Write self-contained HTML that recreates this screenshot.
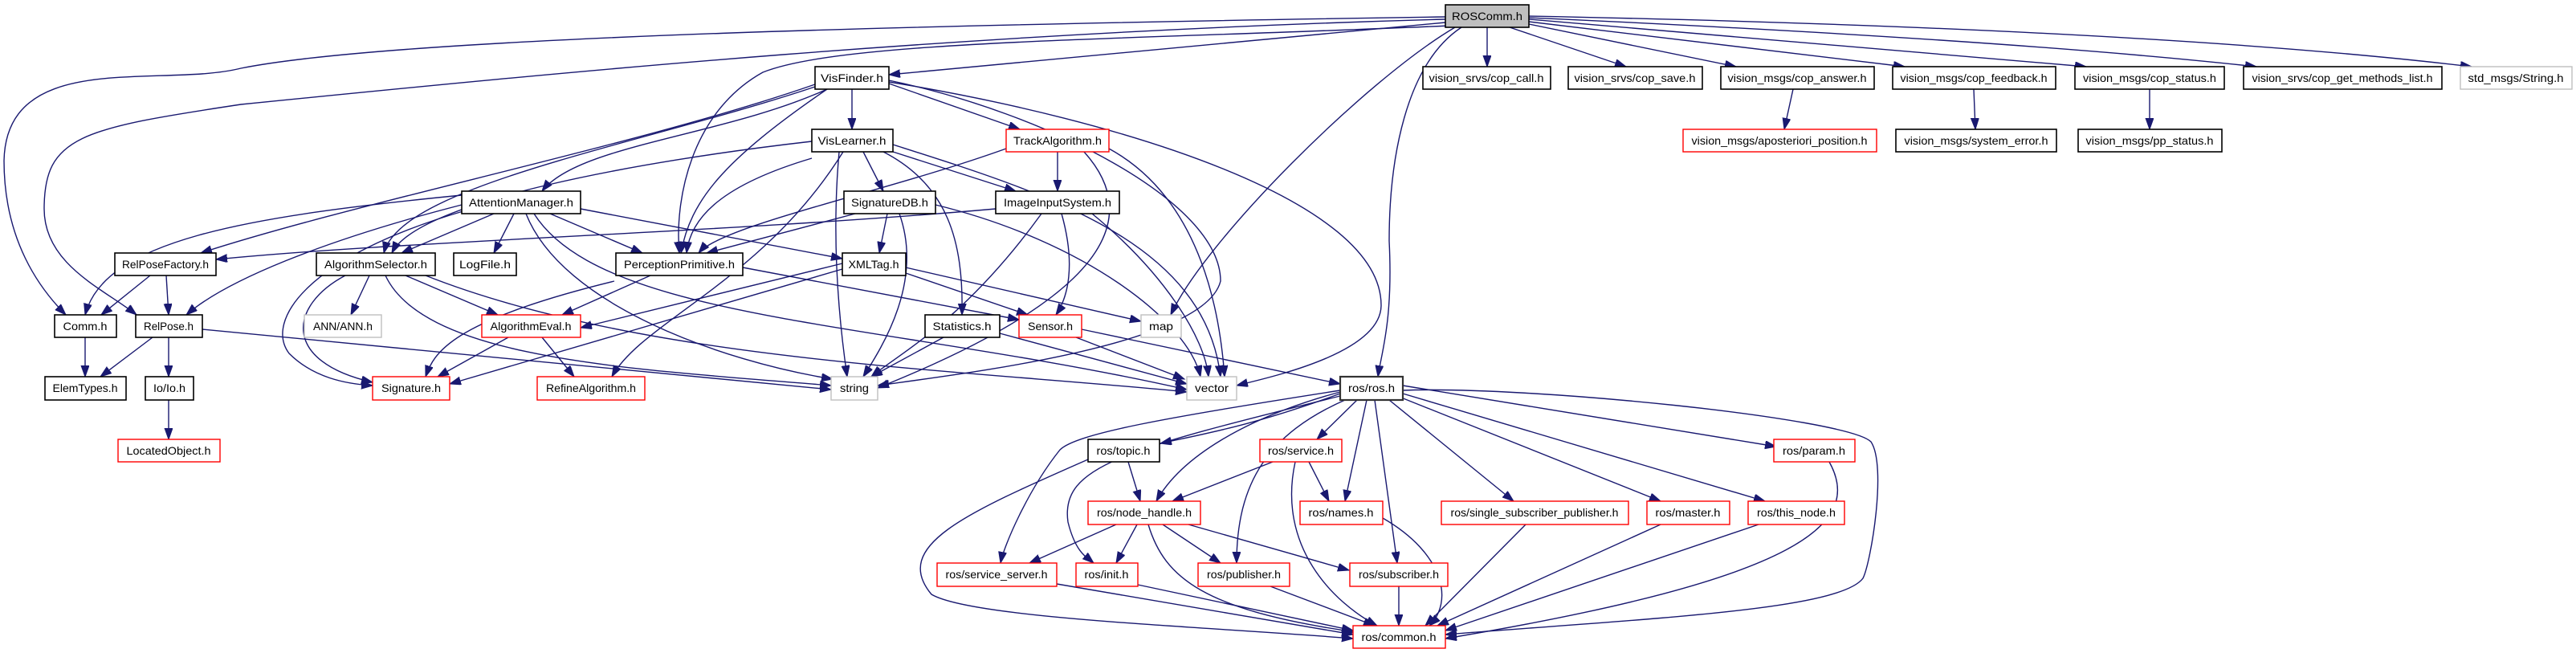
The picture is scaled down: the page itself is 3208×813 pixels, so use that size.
<!DOCTYPE html>
<html><head><meta charset="utf-8"><style>
html,body{margin:0;padding:0;background:#fff;}
svg{display:block;}
text{font-family:"Liberation Sans",sans-serif;font-size:14px;fill:#000;text-anchor:middle;}
.e{fill:none;stroke:#191970;stroke-width:1.4;marker-end:url(#a);}
.n{fill:#fff;stroke:#000;stroke-width:1.6;}
.r{fill:#fff;stroke:#ff0000;stroke-width:1.4;}
.g{fill:#fff;stroke:#bfbfbf;stroke-width:1.4;}
</style></head><body>
<svg width="3208" height="813" viewBox="0 0 3208 813" xmlns="http://www.w3.org/2000/svg">
<defs><marker id="a" markerUnits="userSpaceOnUse" markerWidth="16" markerHeight="12" refX="14" refY="5" orient="auto"><path d="M0,0 L14,5 L0,10 Z" fill="#191970" stroke="#191970"/></marker></defs>
<g>
<!-- ROSComm edges -->
<path class="e" d="M1852,34 L1852,83"/>
<path class="e" d="M1880,34 L2025,83"/>
<path class="e" d="M1904,30 L2162,83"/>
<path class="e" d="M1904,27 L2372,83"/>
<path class="e" d="M1904,24 L2598,83"/>
<path class="e" d="M1904,22 C2300,40 2600,60 2810,83"/>
<path class="e" d="M1904,20 C2400,30 2800,50 3078,83"/>
<path class="e" d="M1800,28 L1107,93"/>
<path class="e" d="M1800,21 C1200,30 500,45 300,85 C200,110 8,60 5,200 C5,300 50,360 82,392"/>
<path class="e" d="M1800,24 C1200,40 700,90 300,130 C100,160 55,170 55,260 C55,330 130,360 170,392"/>
<path class="e" d="M1805,32 C1400,50 1050,50 950,90 C860,140 840,250 846,315"/>
<path class="e" d="M1812,34 C1700,100 1500,300 1458,392"/>
<path class="e" d="M1820,34 C1750,80 1730,200 1730,300 C1735,400 1720,440 1716,469"/>
<!-- VisFinder -->
<path class="e" d="M1061,111 L1061,161"/>
<path class="e" d="M1107,104 L1270,161"/>
<path class="e" d="M1030,111 C900,170 720,180 675,238"/>
<path class="e" d="M1015,105 C800,180 450,250 250,315"/>
<path class="e" d="M1015,108 C800,180 500,230 478,315"/>
<path class="e" d="M1030,111 C900,200 860,250 848,315"/>
<path class="e" d="M1107,100 C1300,140 1520,250 1520,350 C1500,430 1200,465 1093,480"/>
<path class="e" d="M1107,102 C1400,150 1720,250 1720,380 C1720,440 1580,470 1540,480"/>
<!-- VisLearner -->
<path class="e" d="M1075,189 L1100,238"/>
<path class="e" d="M1112,189 L1265,238"/>
<path class="e" d="M1100,189 C1180,230 1200,300 1198,392"/>
<path class="e" d="M1011,197 C900,230 860,270 855,315"/>
<path class="e" d="M1011,176 C800,200 520,250 488,315"/>
<path class="e" d="M1050,189 C950,350 800,400 762,469"/>
<path class="e" d="M1045,189 C1035,300 1045,400 1055,469"/>
<path class="e" d="M1112,180 C1300,240 1500,300 1520,469"/>
<!-- TrackAlgorithm -->
<path class="e" d="M1317,189 L1317,238"/>
<path class="e" d="M1253,185 C1100,240 900,280 870,315"/>
<path class="e" d="M1350,189 C1450,300 1300,400 1093,483"/>
<path class="e" d="M1381,185 C1500,250 1520,400 1525,469"/>
<!-- AttentionManager -->
<path class="e" d="M575,243 C300,270 130,300 106,392"/>
<path class="e" d="M575,255 C400,300 280,350 232,392"/>
<path class="e" d="M615,266 L500,315"/>
<path class="e" d="M640,266 L615,315"/>
<path class="e" d="M685,266 L800,315"/>
<path class="e" d="M723,260 L1049,322"/>
<path class="e" d="M580,262 C380,320 330,400 360,440 C390,470 430,478 464,480"/>
<path class="e" d="M655,266 C700,380 900,450 1037,472"/>
<path class="e" d="M665,266 C750,400 1100,400 1478,485"/>
<!-- SignatureDB -->
<path class="e" d="M1105,266 L1095,315"/>
<path class="e" d="M1065,266 L880,315"/>
<path class="e" d="M1120,266 C1150,350 1100,430 1075,469"/>
<path class="e" d="M1165,255 C1350,300 1480,400 1495,469"/>
<!-- ImageInputSystem -->
<path class="e" d="M1240,260 C900,290 500,300 269,323"/>
<path class="e" d="M1322,266 C1340,330 1330,370 1315,392"/>
<path class="e" d="M1297,266 C1200,400 1120,440 1085,469"/>
<path class="e" d="M1360,266 C1450,340 1500,420 1505,469"/>
<!-- row 3 -->
<path class="e" d="M187,343 L126,392"/>
<path class="e" d="M207,343 L210,392"/>
<path class="e" d="M460,343 L437,392"/>
<path class="e" d="M505,343 L620,392"/>
<path class="e" d="M430,343 C360,380 350,450 464,476"/>
<path class="e" d="M480,343 C530,450 800,460 1035,480"/>
<path class="e" d="M530,343 C800,450 1200,460 1478,488"/>
<path class="e" d="M810,343 L700,392"/>
<path class="e" d="M765,350 C560,400 540,440 530,469"/>
<path class="e" d="M925,333 L1269,398"/>
<path class="e" d="M1049,328 L723,408"/>
<path class="e" d="M1049,335 L560,478"/>
<path class="e" d="M1128,340 L1280,392"/>
<path class="e" d="M1128,333 L1421,400"/>
<!-- row 4 -->
<path class="e" d="M106,420 L106,469"/>
<path class="e" d="M190,420 L125,469"/>
<path class="e" d="M210,420 L210,469"/>
<path class="e" d="M252,410 L1035,485"/>
<path class="e" d="M210,498 L210,547"/>
<path class="e" d="M633,420 L545,469"/>
<path class="e" d="M675,420 L715,469"/>
<path class="e" d="M1175,420 L1085,469"/>
<path class="e" d="M1245,415 L1478,478"/>
<path class="e" d="M1340,420 L1475,472"/>
<path class="e" d="M1347,410 L1669,478"/>
<!-- ros/ros -->
<path class="e" d="M1669,490 C1560,530 1500,540 1445,552"/>
<path class="e" d="M1690,498 L1640,547"/>
<path class="e" d="M1669,488 C1550,520 1470,570 1440,624"/>
<path class="e" d="M1702,498 L1675,624"/>
<path class="e" d="M1730,498 L1885,624"/>
<path class="e" d="M1745,495 L2068,624"/>
<path class="e" d="M1747,490 L2198,624"/>
<path class="e" d="M1747,480 L2212,556"/>
<path class="e" d="M1669,486 C1450,520 1340,540 1320,560 C1280,610 1250,680 1246,701"/>
<path class="e" d="M1669,493 C1400,560 1320,580 1330,650 C1340,690 1355,695 1362,701"/>
<path class="e" d="M1675,498 C1580,540 1540,600 1540,701"/>
<path class="e" d="M1712,498 L1740,701"/>
<path class="e" d="M1747,486 C1900,480 2300,520 2330,550 C2350,580 2330,700 2320,720 C2290,760 2050,770 1800,790"/>
<!-- ros lower -->
<path class="e" d="M1405,575 L1420,624"/>
<path class="e" d="M1355,572 C1200,640 1110,680 1160,740 C1210,770 1500,780 1685,795"/>
<path class="e" d="M1585,575 L1460,624"/>
<path class="e" d="M1630,575 L1655,624"/>
<path class="e" d="M1613,575 C1590,680 1660,750 1715,779"/>
<path class="e" d="M1722,645 C1800,690 1810,750 1780,779"/>
<path class="e" d="M1900,653 L1775,779"/>
<path class="e" d="M2068,653 L1790,779"/>
<path class="e" d="M2190,653 L1800,785"/>
<path class="e" d="M2278,575 C2320,650 2250,720 1800,795"/>
<path class="e" d="M1390,653 L1282,701"/>
<path class="e" d="M1416,653 L1390,701"/>
<path class="e" d="M1448,653 L1520,701"/>
<path class="e" d="M1480,653 L1680,710"/>
<path class="e" d="M1430,653 C1450,720 1500,760 1688,787"/>
<path class="e" d="M1316,727 L1685,790"/>
<path class="e" d="M1417,728 L1685,785"/>
<path class="e" d="M1582,730 L1712,779"/>
<path class="e" d="M1742,730 L1742,779"/>
<path class="e" d="M2233,111 L2222,161"/>
<path class="e" d="M2458,111 L2460,161"/>
<path class="e" d="M2677,111 L2677,161"/>
</g>
<g>
<rect x="1800" y="6" width="104" height="28" fill="#bfbfbf" stroke="#000" stroke-width="1.6"/><text x="1852" y="25" textLength="88" lengthAdjust="spacingAndGlyphs">ROSComm.h</text>
<rect class="n" x="1015" y="83" width="92" height="28"/><text x="1061" y="102" textLength="78" lengthAdjust="spacingAndGlyphs">VisFinder.h</text>
<rect class="n" x="1772" y="83" width="159" height="28"/><text x="1851" y="102" textLength="143" lengthAdjust="spacingAndGlyphs">vision_srvs/cop_call.h</text>
<rect class="n" x="1953" y="83" width="167" height="28"/><text x="2036" y="102" textLength="151" lengthAdjust="spacingAndGlyphs">vision_srvs/cop_save.h</text>
<rect class="n" x="2143" y="83" width="191" height="28"/><text x="2238" y="102" textLength="173" lengthAdjust="spacingAndGlyphs">vision_msgs/cop_answer.h</text>
<rect class="n" x="2357" y="83" width="203" height="28"/><text x="2458" y="102" textLength="183" lengthAdjust="spacingAndGlyphs">vision_msgs/cop_feedback.h</text>
<rect class="n" x="2584" y="83" width="186" height="28"/><text x="2677" y="102" textLength="166" lengthAdjust="spacingAndGlyphs">vision_msgs/cop_status.h</text>
<rect class="n" x="2794" y="83" width="247" height="28"/><text x="2917" y="102" textLength="225" lengthAdjust="spacingAndGlyphs">vision_srvs/cop_get_methods_list.h</text>
<rect class="g" x="3064" y="83" width="139" height="28"/><text x="3133" y="102" textLength="119" lengthAdjust="spacingAndGlyphs">std_msgs/String.h</text>
<rect class="n" x="1011" y="161" width="101" height="28"/><text x="1061" y="180" textLength="85" lengthAdjust="spacingAndGlyphs">VisLearner.h</text>
<rect class="r" x="1253" y="161" width="128" height="28"/><text x="1317" y="180" textLength="110" lengthAdjust="spacingAndGlyphs">TrackAlgorithm.h</text>
<rect class="r" x="2096" y="161" width="241" height="28"/><text x="2216" y="180" textLength="219" lengthAdjust="spacingAndGlyphs">vision_msgs/aposteriori_position.h</text>
<rect class="n" x="2361" y="161" width="200" height="28"/><text x="2461" y="180" textLength="179" lengthAdjust="spacingAndGlyphs">vision_msgs/system_error.h</text>
<rect class="n" x="2588" y="161" width="179" height="28"/><text x="2677" y="180" textLength="159" lengthAdjust="spacingAndGlyphs">vision_msgs/pp_status.h</text>
<rect class="n" x="575" y="238" width="148" height="28"/><text x="649" y="257" textLength="130" lengthAdjust="spacingAndGlyphs">AttentionManager.h</text>
<rect class="n" x="1051" y="238" width="114" height="28"/><text x="1108" y="257" textLength="96" lengthAdjust="spacingAndGlyphs">SignatureDB.h</text>
<rect class="n" x="1240" y="238" width="154" height="28"/><text x="1317" y="257" textLength="134" lengthAdjust="spacingAndGlyphs">ImageInputSystem.h</text>
<rect class="n" x="143" y="315" width="126" height="28"/><text x="206" y="334" textLength="108" lengthAdjust="spacingAndGlyphs">RelPoseFactory.h</text>
<rect class="n" x="394" y="315" width="148" height="28"/><text x="468" y="334" textLength="128" lengthAdjust="spacingAndGlyphs">AlgorithmSelector.h</text>
<rect class="n" x="565" y="315" width="78" height="28"/><text x="604" y="334" textLength="64" lengthAdjust="spacingAndGlyphs">LogFile.h</text>
<rect class="n" x="767" y="315" width="158" height="28"/><text x="846" y="334" textLength="138" lengthAdjust="spacingAndGlyphs">PerceptionPrimitive.h</text>
<rect class="n" x="1049" y="315" width="79" height="28"/><text x="1088" y="334" textLength="63" lengthAdjust="spacingAndGlyphs">XMLTag.h</text>
<rect class="n" x="68" y="392" width="77" height="28"/><text x="106" y="411" textLength="55" lengthAdjust="spacingAndGlyphs">Comm.h</text>
<rect class="n" x="169" y="392" width="83" height="28"/><text x="210" y="411" textLength="62" lengthAdjust="spacingAndGlyphs">RelPose.h</text>
<rect class="g" x="379" y="392" width="96" height="28"/><text x="427" y="411" textLength="74" lengthAdjust="spacingAndGlyphs">ANN/ANN.h</text>
<rect class="r" x="600" y="392" width="123" height="28"/><text x="661" y="411" textLength="101" lengthAdjust="spacingAndGlyphs">AlgorithmEval.h</text>
<rect class="n" x="1152" y="392" width="93" height="28"/><text x="1198" y="411" textLength="73" lengthAdjust="spacingAndGlyphs">Statistics.h</text>
<rect class="r" x="1269" y="392" width="78" height="28"/><text x="1308" y="411" textLength="56" lengthAdjust="spacingAndGlyphs">Sensor.h</text>
<rect class="g" x="1421" y="392" width="50" height="28"/><text x="1446" y="411" textLength="30" lengthAdjust="spacingAndGlyphs">map</text>
<rect class="n" x="56" y="469" width="101" height="29"/><text x="106" y="488" textLength="81" lengthAdjust="spacingAndGlyphs">ElemTypes.h</text>
<rect class="n" x="181" y="469" width="60" height="29"/><text x="211" y="488" textLength="40" lengthAdjust="spacingAndGlyphs">Io/Io.h</text>
<rect class="r" x="464" y="469" width="96" height="29"/><text x="512" y="488" textLength="74" lengthAdjust="spacingAndGlyphs">Signature.h</text>
<rect class="r" x="669" y="469" width="134" height="29"/><text x="736" y="488" textLength="112" lengthAdjust="spacingAndGlyphs">RefineAlgorithm.h</text>
<rect class="g" x="1035" y="469" width="58" height="29"/><text x="1064" y="488" textLength="36" lengthAdjust="spacingAndGlyphs">string</text>
<rect class="g" x="1478" y="469" width="62" height="29"/><text x="1509" y="488" textLength="42" lengthAdjust="spacingAndGlyphs">vector</text>
<rect x="1669" y="469" width="78" height="29" fill="#fff" stroke="#333" stroke-width="2.2"/><text x="1708" y="488" textLength="58" lengthAdjust="spacingAndGlyphs">ros/ros.h</text>
<rect class="r" x="147" y="547" width="127" height="28"/><text x="210" y="566" textLength="105" lengthAdjust="spacingAndGlyphs">LocatedObject.h</text>
<rect class="n" x="1355" y="547" width="89" height="28"/><text x="1399" y="566" textLength="67" lengthAdjust="spacingAndGlyphs">ros/topic.h</text>
<rect class="r" x="1569" y="547" width="102" height="28"/><text x="1620" y="566" textLength="82" lengthAdjust="spacingAndGlyphs">ros/service.h</text>
<rect class="r" x="2209" y="547" width="101" height="28"/><text x="2259" y="566" textLength="78" lengthAdjust="spacingAndGlyphs">ros/param.h</text>
<rect class="r" x="1355" y="624" width="140" height="29"/><text x="1425" y="643" textLength="118" lengthAdjust="spacingAndGlyphs">ros/node_handle.h</text>
<rect class="r" x="1619" y="624" width="103" height="29"/><text x="1670" y="643" textLength="81" lengthAdjust="spacingAndGlyphs">ros/names.h</text>
<rect class="r" x="1795" y="624" width="233" height="29"/><text x="1911" y="643" textLength="209" lengthAdjust="spacingAndGlyphs">ros/single_subscriber_publisher.h</text>
<rect class="r" x="2051" y="624" width="103" height="29"/><text x="2102" y="643" textLength="81" lengthAdjust="spacingAndGlyphs">ros/master.h</text>
<rect class="r" x="2177" y="624" width="120" height="29"/><text x="2237" y="643" textLength="98" lengthAdjust="spacingAndGlyphs">ros/this_node.h</text>
<rect class="r" x="1167" y="701" width="149" height="29"/><text x="1241" y="720" textLength="127" lengthAdjust="spacingAndGlyphs">ros/service_server.h</text>
<rect class="r" x="1340" y="701" width="77" height="29"/><text x="1378" y="720" textLength="55" lengthAdjust="spacingAndGlyphs">ros/init.h</text>
<rect class="r" x="1492" y="701" width="114" height="29"/><text x="1549" y="720" textLength="92" lengthAdjust="spacingAndGlyphs">ros/publisher.h</text>
<rect class="r" x="1681" y="701" width="122" height="29"/><text x="1742" y="720" textLength="100" lengthAdjust="spacingAndGlyphs">ros/subscriber.h</text>
<rect class="r" x="1685" y="779" width="115" height="28"/><text x="1742" y="798" textLength="93" lengthAdjust="spacingAndGlyphs">ros/common.h</text>
</g>
</svg>
</body></html>
